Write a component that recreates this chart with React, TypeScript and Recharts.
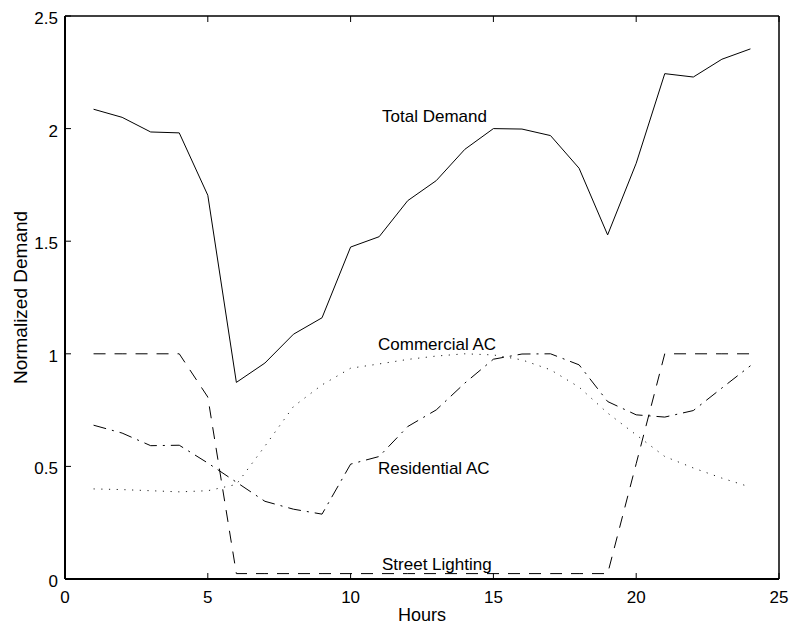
import React from 'react';
import { LineChart, Line, XAxis, YAxis, ReferenceDot, Label } from 'recharts';

// Hour of day
const hours = [1, 2, 3, 4, 5, 6, 7, 8, 9, 10, 11, 12, 13, 14, 15, 16, 17, 18, 19, 20, 21, 22, 23, 24];

// Normalized demand per load type
const totalDemand = [
  2.086, 2.05, 1.985, 1.981, 1.704, 0.873, 0.959, 1.087, 1.16, 1.474, 1.52, 1.68,
  1.769, 1.908, 2.0, 1.998, 1.969, 1.824, 1.528, 1.846, 2.244, 2.229, 2.308, 2.354,
];
const streetLighting = [
  1.0, 1.0, 1.0, 1.0, 0.808, 0.024, 0.024, 0.024, 0.024, 0.024, 0.024, 0.024,
  0.024, 0.024, 0.024, 0.024, 0.024, 0.024, 0.024, 0.512, 1.0, 1.0, 1.0, 1.0,
];
const commercialAC = [
  0.4, 0.397, 0.392, 0.387, 0.392, 0.42, 0.59, 0.766, 0.862, 0.936, 0.955, 0.975,
  0.99, 1.0, 0.995, 0.973, 0.929, 0.852, 0.737, 0.64, 0.544, 0.493, 0.448, 0.408,
];
const residentialAC = [
  0.683, 0.648, 0.592, 0.594, 0.515, 0.43, 0.345, 0.31, 0.288, 0.51, 0.544, 0.677,
  0.751, 0.87, 0.976, 0.999, 1.0, 0.951, 0.788, 0.729, 0.719, 0.748, 0.848, 0.947,
];

// Axis ticks
const xTicks = [0, 5, 10, 15, 20, 25];
const yTicks = [0, 0.5, 1, 1.5, 2, 2.5];
const yTickLabels = ['0', '0.5', '1', '1.5', '2', '2.5'];

// Curve annotations: text and anchor in data coordinates
const curveLabels = [
  { text: 'Total Demand', hour: 11.1, value: 2.03 },
  { text: 'Commercial AC', hour: 10.96, value: 1.018 },
  { text: 'Residential AC', hour: 10.96, value: 0.468 },
  { text: 'Street Lighting', hour: 11.1, value: 0.04 },
];

const rows = hours.map((h, i) => ({
  hour: h,
  total: totalDemand[i],
  street: streetLighting[i],
  commercial: commercialAC[i],
  residential: residentialAC[i],
}));

const FONT = 'Liberation Sans, Arial, Helvetica, sans-serif';
const FS = 17;
const TICK = 6;

const BottomTick = (props: any) => {
  const { x, y, payload } = props;
  return (
    <g>
      <line x1={x} y1={y} x2={x} y2={y - TICK} stroke="#000" strokeWidth={1} />
      <text x={x} y={y + 24} textAnchor="middle" fontFamily={FONT} fontSize={FS} fill="#000">
        {String(payload.value)}
      </text>
    </g>
  );
};

const TopTick = (props: any) => {
  const { x, y } = props;
  return <line x1={x} y1={y} x2={x} y2={y + TICK} stroke="#000" strokeWidth={1} />;
};

const LeftTick = (props: any) => {
  const { x, y, payload } = props;
  const idx = yTicks.indexOf(payload.value);
  return (
    <g>
      <line x1={x} y1={y} x2={x + TICK} y2={y} stroke="#000" strokeWidth={1} />
      <text x={x - 7} y={y + 8} textAnchor="end" fontFamily={FONT} fontSize={FS} fill="#000">
        {idx >= 0 ? yTickLabels[idx] : String(payload.value)}
      </text>
    </g>
  );
};

const RightTick = (props: any) => {
  const { x, y } = props;
  return <line x1={x} y1={y} x2={x - TICK} y2={y} stroke="#000" strokeWidth={1} />;
};

const YTitle = (props: any) => {
  const vb = props.viewBox || { x: 0, y: 16, width: 65, height: 563 };
  const cy = vb.y + vb.height / 2;
  return (
    <text
      x={0}
      y={0}
      transform={`translate(27, ${cy}) rotate(-90)`}
      textAnchor="middle"
      fontFamily={FONT}
      fontSize={19}
      fill="#000"
    >
      Normalized Demand
    </text>
  );
};

const XTitle = (props: any) => {
  const vb = props.viewBox || { x: 65, y: 579, width: 714, height: 47 };
  return (
    <text
      x={vb.x + vb.width / 2}
      y={vb.y + 42}
      textAnchor="middle"
      fontFamily={FONT}
      fontSize={18}
      fill="#000"
    >
      Hours
    </text>
  );
};

const makeTextShape = (text: string) => (p: any) => (
  <text x={p.cx} y={p.cy} textAnchor="start" fontFamily={FONT} fontSize={FS} fill="#000">
    {text}
  </text>
);

export default function App() {
  return (
    <div style={{ position: 'absolute', left: 0, top: 0, width: 791, height: 626, background: '#fff' }}>
      <LineChart width={791} height={626} data={rows} margin={{ top: 15, right: 11, bottom: 0, left: 0 }}>
        <XAxis
          dataKey="hour"
          type="number"
          domain={[0, 25]}
          ticks={xTicks}
          interval={0}
          height={47}
          tickSize={0}
          tickMargin={0}
          tickLine={false}
          tick={<BottomTick />}
          axisLine={{ stroke: '#000', strokeWidth: 2 }}
        >
          <Label content={<XTitle />} />
        </XAxis>
        <XAxis
          xAxisId="top"
          orientation="top"
          dataKey="hour"
          type="number"
          domain={[0, 25]}
          ticks={xTicks}
          interval={0}
          height={1}
          tickSize={0}
          tickMargin={0}
          tickLine={false}
          tick={<TopTick />}
          axisLine={{ stroke: '#000', strokeWidth: 1.5 }}
        />
        <YAxis
          type="number"
          domain={[0, 2.5]}
          ticks={yTicks}
          interval={0}
          width={65}
          tickSize={0}
          tickMargin={0}
          tickLine={false}
          tick={<LeftTick />}
          axisLine={{ stroke: '#000', strokeWidth: 2 }}
        >
          <Label content={<YTitle />} />
        </YAxis>
        <YAxis
          yAxisId="right"
          orientation="right"
          type="number"
          domain={[0, 2.5]}
          ticks={yTicks}
          interval={0}
          width={1}
          tickSize={0}
          tickMargin={0}
          tickLine={false}
          tick={<RightTick />}
          axisLine={{ stroke: '#000', strokeWidth: 1.5 }}
        />
        <Line
          type="linear"
          dataKey="total"
          stroke="#000"
          strokeWidth={1}
          dot={false}
          activeDot={false}
          isAnimationActive={false}
        />
        <Line
          type="linear"
          dataKey="street"
          stroke="#000"
          strokeWidth={1}
          strokeDasharray="12 9"
          dot={false}
          activeDot={false}
          isAnimationActive={false}
        />
        <Line
          type="linear"
          dataKey="commercial"
          stroke="#222"
          strokeWidth={1}
          strokeDasharray="1.2 6.5"
          dot={false}
          activeDot={false}
          isAnimationActive={false}
        />
        <Line
          type="linear"
          dataKey="residential"
          stroke="#000"
          strokeWidth={1}
          strokeDasharray="13 6 2 6"
          dot={false}
          activeDot={false}
          isAnimationActive={false}
        />
        {curveLabels.map((c) => (
          <ReferenceDot
            key={c.text}
            x={c.hour}
            y={c.value}
            r={0}
            isFront
            shape={makeTextShape(c.text)}
          />
        ))}
      </LineChart>
    </div>
  );
}
